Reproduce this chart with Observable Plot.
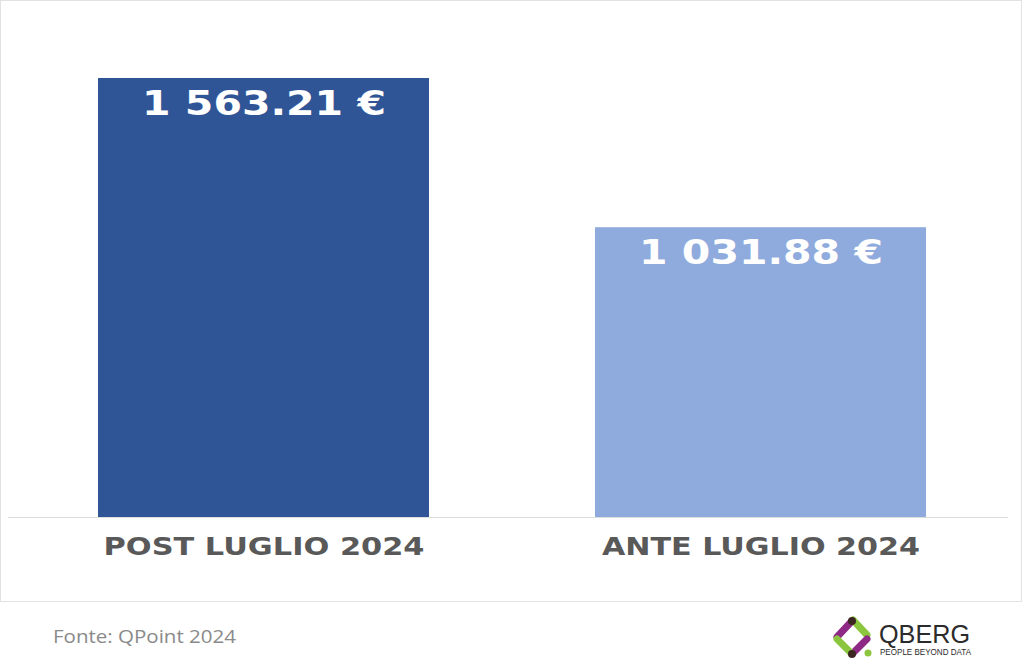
<!DOCTYPE html>
<html>
<head>
<meta charset="utf-8">
<script src="https://cdn.jsdelivr.net/npm/d3@7"></script>
<script src="https://cdn.jsdelivr.net/npm/@observablehq/plot@0.6"></script>
<style>
  html, body { margin: 0; padding: 0; background: #fff; }
  #wrap { position: relative; width: 1024px; height: 662px; overflow: hidden; }
  #frame { position: absolute; left: 0; top: 0; width: 1022px; height: 602px; box-sizing: border-box; border: 1px solid #e2e2e2; pointer-events: none; }
  #chart { position: absolute; left: 0; top: 0; }
  #footer { position: absolute; left: 0; top: 602px; }
</style>
</head>
<body>
<div id="wrap">
  <div id="chart"></div>
  <div id="frame"></div>
  <svg id="footer" width="1024" height="60" xmlns="http://www.w3.org/2000/svg">
    <text x="53" y="41" font-family="'Open Sans', Lato, sans-serif" font-size="18" fill="#8a8a8a" textLength="183" lengthAdjust="spacingAndGlyphs">Fonte: QPoint 2024</text>
    <g stroke-linecap="round" stroke-width="7" fill="none">
      <line x1="837" y1="35" x2="851" y2="20" stroke="#8e2a86"/>
      <line x1="853" y1="18" x2="867" y2="33" stroke="#8cc63f"/>
      <line x1="867" y1="37" x2="853" y2="51" stroke="#8e2a86"/>
      <line x1="851" y1="51" x2="837" y2="37" stroke="#8cc63f"/>
    </g>
    <circle cx="852" cy="19" r="4" fill="#3b2622"/>
    <circle cx="852" cy="52" r="4" fill="#3b2622"/>
    <circle cx="868" cy="51" r="3.5" fill="#8cc63f"/>
    <text x="879" y="41" font-family="'Liberation Sans', Arial, sans-serif" font-size="25" fill="#2b2b2b" textLength="91" lengthAdjust="spacingAndGlyphs">QBERG</text>
    <text x="880" y="53" font-family="'Liberation Sans', Arial, sans-serif" font-size="8.5" fill="#2b2b2b" textLength="91" lengthAdjust="spacingAndGlyphs">PEOPLE BEYOND DATA</text>
  </svg>
</div>
<script>
const categories = ["POST LUGLIO 2024", "ANTE LUGLIO 2024"];
const values = [1563.21, 1031.88];
const valueLabels = ["1 563.21 €", "1 031.88 €"];
const barColors = ["#2f5597", "#8faadc"];

const data = categories.map((c, i) => ({cat: c, value: values[i], label: valueLabels[i]}));

const chart = Plot.plot({
  width: 1022,
  height: 602,
  marginTop: 78,
  marginBottom: 85,
  marginLeft: 8,
  marginRight: 14,
  style: {fontFamily: "'DejaVu Sans', sans-serif", background: "transparent"},
  x: {domain: categories, paddingInner: 0.335, paddingOuter: 0.1725, align: 0.524,
      axis: "bottom", tickSize: 0, tickPadding: 20, label: null},
  y: {domain: [0, values[0]], axis: null},
  color: {domain: categories, range: barColors},
  marks: [
    Plot.barY(data, {x: "cat", y: "value", fill: "cat"}),
    Plot.ruleY([0], {stroke: "#dcdcdc", strokeWidth: 1}),
    Plot.text(data, {x: "cat", y: "value", text: "label", dy: 26, fill: "white",
      fontSize: 33, fontWeight: "bold"})
  ]
});
document.getElementById("chart").appendChild(chart);

// style text
const svg = d3.select(chart);
svg.selectAll("text").each(function() {
  const t = this.textContent;
  const el = d3.select(this);
  if (categories.includes(t)) {
    el.attr("font-size", 25).attr("font-weight", "bold").attr("fill", "#595959")
      .attr("textLength", t.startsWith("POST") ? 321 : 318).attr("lengthAdjust", "spacingAndGlyphs");
  } else if (valueLabels.includes(t)) {
    el.attr("textLength", 244).attr("lengthAdjust", "spacingAndGlyphs");
  }
});
</script>
</body>
</html>
